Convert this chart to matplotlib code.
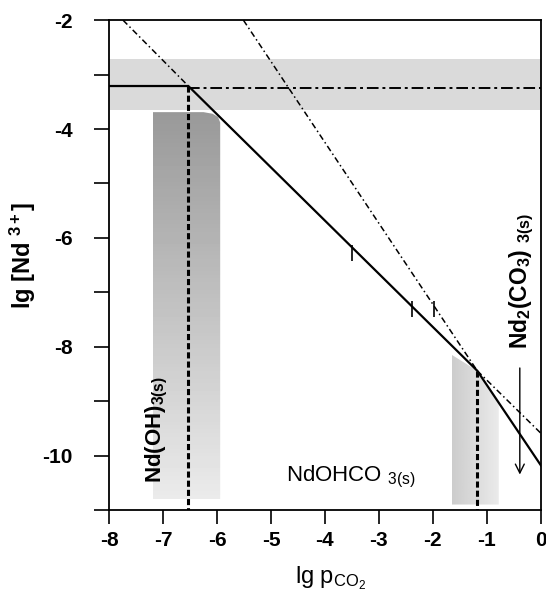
import matplotlib
matplotlib.use("Agg")
import matplotlib.pyplot as plt
import numpy as np
from matplotlib.patches import Polygon

plt.rcParams['font.family'] = ['Liberation Sans', 'DejaVu Sans']
plt.rcParams['mathtext.fontset'] = 'custom'
plt.rcParams['mathtext.rm'] = 'Liberation Sans'
plt.rcParams['mathtext.bf'] = 'Liberation Sans:bold'
plt.rcParams['mathtext.it'] = 'Liberation Sans:italic'

# solubility line (solid): Nd(OH)3 -> NdOHCO3 -> Nd2(CO3)3
solid_x = [-8, -6.53, -1.18, 0]
solid_y = [-3.21, -3.21, -8.44, -10.18]

# metastable extensions (dash-dot)
hyd_x = [-6.53, 0]
hyd_y = [-3.24, -3.24]
carb_up_x = [-7.74, -6.53]
carb_up_y = [-2, -3.21]
nd2_x = [-5.51, -1.18]
nd2_y = [-2, -8.44]
carb_lo_x = [-1.18, 0]
carb_lo_y = [-8.44, -9.59]

# phase boundaries
bound_x = [-6.53, -1.18]
bound_top = [-3.21, -8.44]

# small marks on the lines
mark_x = [-3.49, -2.38, -1.98]
mark_y = [-6.27, -7.31, -7.30]

# shaded uncertainty regions
hband_y = [-3.65, -2.72]
vband_x = [-7.19, -7.19, -6.25, -6.08, -5.98, -5.94, -5.94]
vband_y = [-10.8, -3.69, -3.69, -3.72, -3.78, -3.88, -10.8]
rband_x = [-1.65, -1.65, -1.18, -0.78, -0.78]
rband_y = [-10.9, -8.15, -8.44, -9.05, -10.9]

fig = plt.figure(figsize=(5.46, 5.93), dpi=100)
ax = fig.add_axes([0.1996, 0.140, 0.791, 0.826])
ax.set_xlim(-8, 0)
ax.set_ylim(-11, -2)

# horizontal band
ax.fill_between([-8, 0], hband_y[0], hband_y[1], color='#dadada', lw=0, zorder=1)

# vertical band with gradient (dark at top)
vpoly = Polygon(list(zip(vband_x, vband_y)), closed=True, fc='none', ec='none')
ax.add_patch(vpoly)
grad = np.linspace(0.6, 0.92, 100).reshape(-1, 1)
im = ax.imshow(grad, extent=[-7.19, -5.94, -10.8, -3.69], origin='upper',
               cmap='gray', vmin=0, vmax=1, aspect='auto', zorder=1)
im.set_clip_path(vpoly)

# right band, lighter toward the right
rpoly = Polygon(list(zip(rband_x, rband_y)), closed=True, fc='none', ec='none')
ax.add_patch(rpoly)
grad2 = np.linspace(0.8, 0.92, 100).reshape(1, -1)
im2 = ax.imshow(grad2, extent=[-1.65, -0.78, -10.9, -8.15],
                cmap='gray', vmin=0, vmax=1, aspect='auto', zorder=1)
im2.set_clip_path(rpoly)

# dash-dot extensions
ax.plot(hyd_x, hyd_y, color='k', lw=1.4, ls=(0, (6, 2, 1.5, 2)), zorder=3)
ax.plot(carb_up_x, carb_up_y, color='k', lw=1.1, ls=(0, (4, 2, 1, 2)), zorder=3)
ax.plot(nd2_x, nd2_y, color='k', lw=1.1, ls=(0, (4, 2, 1, 2)), zorder=3)
ax.plot(carb_lo_x, carb_lo_y, color='k', lw=1.1, ls=(0, (4, 2, 1, 2)), zorder=3)

# solid solubility line
ax.plot(solid_x, solid_y, color='k', lw=1.6, zorder=4)

# vertical phase boundaries
for bx, bt in zip(bound_x, bound_top):
    ax.plot([bx, bx], [bt, -11], color='k', lw=2.2, ls=(0, (2, 1)), zorder=4)

ax.plot(mark_x, mark_y, ls='none', marker='|', ms=11, mew=1.2, color='k', zorder=5)

# labels inside
ax.text(-4.73, -10.48, r'NdOHCO $_{\mathregular{3(s)}}$', fontsize=16,
        ha='left', va='baseline', zorder=6)
ax.text(-7.12, -10.5, r'$\mathbf{Nd(OH)_{3(s)}}$', fontsize=16, rotation=90,
        ha='center', va='bottom', zorder=6)
ax.text(-0.36, -8.05, r'$\mathbf{Nd_2(CO_3)\ _{3(s)}}$', fontsize=16.5, rotation=90,
        ha='center', va='bottom', zorder=6)
ax.annotate('', xy=(-0.39, -10.4), xytext=(-0.39, -8.34),
            arrowprops=dict(arrowstyle='->', lw=1.0, color='k',
                            mutation_scale=16), zorder=6)

# axes styling
ax.set_xticks(np.arange(-8, 1, 1))
ax.set_xticklabels([str(v) for v in range(-8, 1)])
ax.set_yticks(np.arange(-11, -1, 1))
ax.set_yticklabels(['' if v % 2 else str(v) for v in range(-11, -1)])
ax.tick_params(axis='x', direction='out', length=10, width=1.2, pad=5,
               labelsize=15, top=False)
ax.tick_params(axis='y', direction='out', length=11, width=1.2, pad=15,
               labelsize=15, right=False)
for lab in ax.get_xticklabels() + ax.get_yticklabels():
    lab.set_fontweight('bold')
for sp in ax.spines.values():
    sp.set_linewidth(1.3)

ax.set_xlabel(r'lg p$_{\mathregular{CO_2}}$', fontsize=17)
ax.xaxis.set_label_coords(0.514, -0.112)
ax.set_ylabel(r'lg [Nd $^{\mathbf{3+}}$]', fontsize=17, fontweight='bold')
ax.yaxis.set_label_coords(-0.164, 0.52)

fig.savefig('out.png', dpi=100)
plt.close(fig)
